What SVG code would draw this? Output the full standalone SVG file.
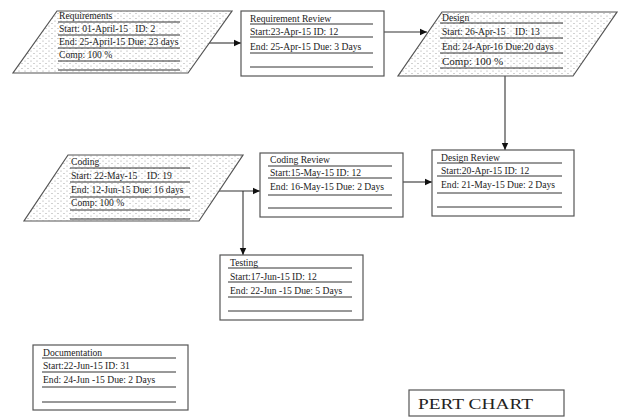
<svg xmlns="http://www.w3.org/2000/svg" width="619" height="417" viewBox="0 0 619 417">
<defs>
<pattern id="dots" width="6" height="5" patternUnits="userSpaceOnUse">
<rect width="6" height="5" fill="#ffffff"/>
<circle cx="1" cy="1" r="0.6" fill="#9a9a9a"/>
<circle cx="4" cy="3.5" r="0.6" fill="#9a9a9a"/>
</pattern>
<marker id="ah" markerWidth="8" markerHeight="8" refX="7" refY="4" orient="auto" markerUnits="userSpaceOnUse">
<path d="M0,0.8 L7,4 L0,7.2 Z" fill="#111"/>
</marker>
</defs>
<style>
.para{fill:url(#dots);stroke:#555;stroke-width:1.2}
.box{fill:#fff;stroke:#555;stroke-width:1.2}
.ln{stroke:#333;stroke-width:1}
.t{font-family:"Liberation Serif","Times New Roman",serif;font-size:9.6px;fill:#222;white-space:pre}
.tb{font-family:"Liberation Serif","Times New Roman",serif;font-size:11px;fill:#222;white-space:pre}
.conn{stroke:#333;stroke-width:1.1;fill:none}
</style>
<g id="connectors">
<line class="conn" x1="209" y1="43" x2="241" y2="43" marker-end="url(#ah)"/>
<line class="conn" x1="384" y1="32" x2="427" y2="32" marker-end="url(#ah)"/>
<line class="conn" x1="505" y1="76" x2="505" y2="150" marker-end="url(#ah)"/>
<line class="conn" x1="403" y1="182" x2="432" y2="182" marker-end="url(#ah)"/>
<line class="conn" x1="219" y1="191" x2="260" y2="191" marker-end="url(#ah)"/>
<line class="conn" x1="243" y1="191" x2="243" y2="255" marker-end="url(#ah)"/>
</g>
<g id="requirements">
<polygon class="para" points="57,11 232,11 188,73 13,73"/>
<text class="t" x="59" y="19">Requirements</text>
<line class="ln" x1="58" y1="22" x2="180" y2="22"/>
<text class="t" x="59" y="32" xml:space="preserve">Start: 01-April-15   ID: 2</text>
<line class="ln" x1="58" y1="35" x2="180" y2="35"/>
<text class="t" x="59" y="45">End: 25-April-15 Due: 23 days</text>
<line class="ln" x1="58" y1="48" x2="180" y2="48"/>
<text class="t" x="59" y="58">Comp: 100 %</text>
<line class="ln" x1="58" y1="61" x2="180" y2="61"/>
<line class="ln" x1="58" y1="70" x2="180" y2="70"/>
</g>
<g id="requirement-review">
<rect class="box" x="241" y="11" width="143" height="65"/>
<text class="t" x="250" y="22">Requirement Review</text>
<line class="ln" x1="250" y1="24" x2="373" y2="24"/>
<text class="t" x="250" y="35">Start:23-Apr-15 ID: 12</text>
<line class="ln" x1="250" y1="37" x2="373" y2="37"/>
<text class="t" x="250" y="50">End: 25-Apr-15 Due: 3 Days</text>
<line class="ln" x1="250" y1="53" x2="373" y2="53"/>
<line class="ln" x1="250" y1="67" x2="373" y2="67"/>
</g>
<g id="design">
<polygon class="para" points="442,12 617,12 573,76 398,76"/>
<text class="t" x="442" y="21">Design</text>
<line class="ln" x1="440" y1="23" x2="563" y2="23"/>
<text class="t" x="442" y="35" xml:space="preserve">Start: 26-Apr-15    ID: 13</text>
<line class="ln" x1="440" y1="38" x2="563" y2="38"/>
<text class="t" x="442" y="50">End: 24-Apr-16 Due:20 days</text>
<line class="ln" x1="440" y1="53" x2="563" y2="53"/>
<text class="tb" x="442" y="65">Comp: 100 %</text>
<line class="ln" x1="440" y1="68" x2="563" y2="68"/>
</g>
<g id="design-review">
<rect class="box" x="432" y="150" width="142" height="66"/>
<text class="t" x="441" y="161">Design Review</text>
<line class="ln" x1="437" y1="163" x2="562" y2="163"/>
<text class="t" x="441" y="174">Start:20-Apr-15 ID: 12</text>
<line class="ln" x1="437" y1="176" x2="562" y2="176"/>
<text class="t" x="441" y="188">End: 21-May-15 Due: 2 Days</text>
<line class="ln" x1="437" y1="193" x2="562" y2="193"/>
<line class="ln" x1="437" y1="207" x2="562" y2="207"/>
</g>
<g id="coding">
<polygon class="para" points="68,155 243,155 199,221 24,221"/>
<text class="t" x="71" y="165">Coding</text>
<line class="ln" x1="70" y1="168" x2="190" y2="168"/>
<text class="t" x="71" y="179" xml:space="preserve">Start: 22-May-15    ID: 19</text>
<line class="ln" x1="70" y1="182" x2="190" y2="182"/>
<text class="t" x="71" y="193">End: 12-Jun-15 Due: 16 days</text>
<line class="ln" x1="70" y1="197" x2="190" y2="197"/>
<text class="t" x="71" y="206">Comp: 100 %</text>
<line class="ln" x1="70" y1="210" x2="190" y2="210"/>
<line class="ln" x1="70" y1="219" x2="190" y2="219"/>
</g>
<g id="coding-review">
<rect class="box" x="260" y="153" width="143" height="64"/>
<text class="t" x="270" y="163">Coding Review</text>
<line class="ln" x1="268" y1="166" x2="392" y2="166"/>
<text class="t" x="270" y="176">Start:15-May-15 ID: 12</text>
<line class="ln" x1="268" y1="178" x2="392" y2="178"/>
<text class="t" x="270" y="190">End: 16-May-15 Due: 2 Days</text>
<line class="ln" x1="268" y1="195" x2="392" y2="195"/>
<line class="ln" x1="268" y1="208" x2="392" y2="208"/>
</g>
<g id="testing">
<rect class="box" x="220" y="255" width="143" height="65"/>
<text class="t" x="230" y="266">Testing</text>
<line class="ln" x1="228" y1="268" x2="352" y2="268"/>
<text class="t" x="230" y="280">Start:17-Jun-15 ID: 12</text>
<line class="ln" x1="228" y1="282" x2="352" y2="282"/>
<text class="t" x="230" y="294">End: 22-Jun -15 Due: 5 Days</text>
<line class="ln" x1="228" y1="297" x2="352" y2="297"/>
<line class="ln" x1="228" y1="311" x2="352" y2="311"/>
</g>
<g id="documentation">
<rect class="box" x="33" y="345" width="155" height="65"/>
<text class="t" x="43" y="356">Documentation</text>
<line class="ln" x1="42" y1="358" x2="176" y2="358"/>
<text class="t" x="43" y="369">Start:22-Jun-15 ID: 31</text>
<line class="ln" x1="42" y1="372" x2="176" y2="372"/>
<text class="t" x="43" y="383">End: 24-Jun -15 Due: 2 Days</text>
<line class="ln" x1="42" y1="387" x2="176" y2="387"/>
<line class="ln" x1="42" y1="402" x2="176" y2="402"/>
</g>
<g id="pert-chart">
<rect class="box" x="409" y="390" width="155" height="26"/>
<text x="418" y="409" style="font-family:'Liberation Serif','Times New Roman',serif;font-size:15px;fill:#222" textLength="115" lengthAdjust="spacingAndGlyphs">PERT CHART</text>
</g>
</svg>
